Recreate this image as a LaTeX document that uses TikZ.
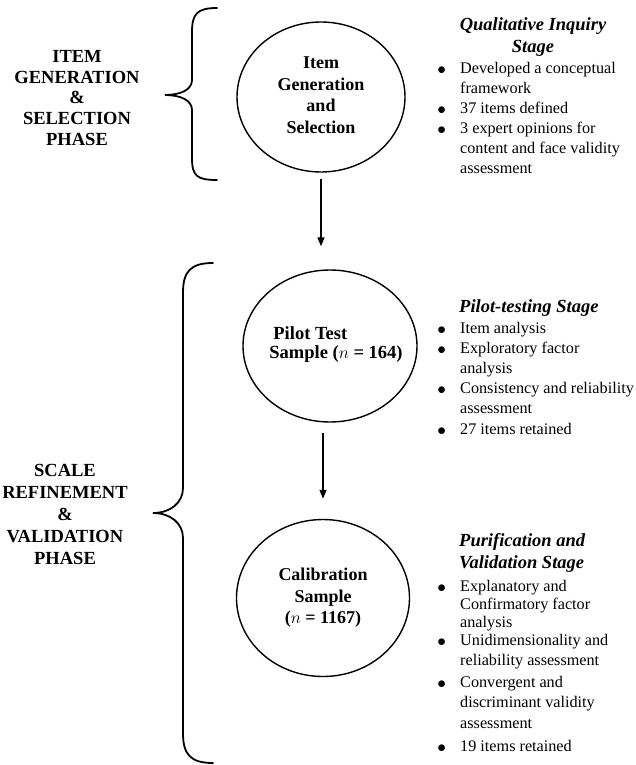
\documentclass[tikz,border=0pt]{standalone}
\usepackage{fontspec}
\setmainfont{Liberation Serif}
\usetikzlibrary{shapes.geometric,arrows.meta}
\newcommand{\bl}{\makebox[22.75pt][l]{\raisebox{-1pt}{\fontsize{19}{0}\selectfont$\bullet$}}}

\begin{document}
\begin{tikzpicture}[x=1pt,y=-1pt,
    stage/.style={ellipse,draw,line width=1.4pt,inner sep=0pt,inner xsep=-30pt,align=center,font=\fontsize{18}{21.5}\selectfont\bfseries},
    flow/.style={line width=1.3pt,-{Triangle[length=9pt,width=7pt]}},
    curly/.style={line width=1.8pt,line cap=round},
    phasetext/.style={align=center,font=\fontsize{18.5}{20.75}\selectfont\bfseries},
    stagehead/.style={font=\fontsize{18.5}{21.5}\selectfont\bfseries\itshape},
    points/.style={anchor=base west,inner sep=0pt,font=\fontsize{16.2}{20}\selectfont}]
  \useasboundingbox (0,0) rectangle (635,765);
  % phases
  \node[phasetext] (genphase) at (77,98) {ITEM\\GENERATION\\\&\\SELECTION\\PHASE};
  \node[phasetext,font=\fontsize{18.5}{22}\selectfont\bfseries] (refphase) at (65,514) {SCALE\\REFINEMENT\\\&\\VALIDATION\\PHASE};
  \draw[curly] (217,8) .. controls (197,8) and (192,14) .. (192,32) -- (192,80) .. controls (192,90) and (180,95) .. (165,95) .. controls (180,95) and (192,100) .. (192,110) -- (192,158) .. controls (192,176) and (197,180) .. (217,180);
  \draw[curly] (213,263) .. controls (190,263) and (183,272) .. (183,293) -- (183,488) .. controls (183,503) and (170,513) .. (153,513) .. controls (170,513) and (183,523) .. (183,538) -- (183,733) .. controls (183,754) and (190,763) .. (213,763);
  % stages
  \node[stage,minimum width=168pt,minimum height=150pt] (gen) at (321,97) {Item\\Generation\\and\\Selection\rule[-4pt]{0pt}{0pt}};
  \node[stage,align=left,font=\fontsize{18.5}{19}\selectfont\bfseries,minimum width=174pt,minimum height=152pt] (pilot) at (330,346) {\hspace*{16pt}Pilot Test\\\hspace*{12pt}Sample ($n$ = 164)\rule[-6pt]{0pt}{0pt}};
  \node[stage,minimum width=173pt,minimum height=157pt] (calib) at (323,598) {Calibration\\Sample\\($n$ = 1167)};
  \draw[flow] ([yshift=-6pt]gen.south) -- ([yshift=23pt]gen.south |- pilot.north);
  \draw[flow] ([yshift=-10pt]calib.north |- pilot.south) -- ([yshift=20pt]calib.north);
  % descriptions
  \node[stagehead,align=center] (qualhead) at (533,37) {Qualitative Inquiry\\Stage};
  \node[points] (quallist) at (437.25,74) {\begin{tabular}[t]{@{}l@{}l@{}}
    \bl & Developed a conceptual\\
        & framework\\
    \bl & 37 items defined\\
    \bl & 3 expert opinions for\\
        & content and face validity\\
        & assessment
  \end{tabular}};
  \node[stagehead,anchor=base west,inner sep=0pt] (pilothead) at (459,312) {Pilot-testing Stage};
  \node[points,font=\fontsize{16.2}{20.2}\selectfont] (pilotlist) at (437.25,333) {\begin{tabular}[t]{@{}l@{}l@{}}
    \bl & Item analysis\\
    \bl & Exploratory factor\\
        & analysis\\
    \bl & Consistency and reliability\\
        & assessment\\
    \bl & 27 items retained
  \end{tabular}};
  \node[stagehead,align=left,anchor=west,inner sep=0pt] (purhead) at (459,553) {Purification and\\Validation Stage};
  \node[points,font=\fontsize{16.2}{18.3}\selectfont] (purlist) at (437.25,591) {\begin{tabular}[t]{@{}l@{}l@{}}
    \bl & Explanatory and\\
        & Confirmatory factor\\
        & analysis\\
    \bl & Unidimensionality and\\[1.7pt]
        & reliability assessment\\[3.4pt]
    \bl & Convergent and\\[1.7pt]
        & discriminant validity\\[2.7pt]
        & assessment\\[5pt]
    \bl & 19 items retained
  \end{tabular}};
\end{tikzpicture}
\end{document}
